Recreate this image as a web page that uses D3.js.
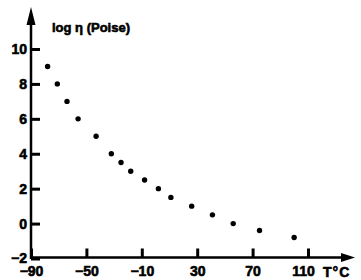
<!DOCTYPE html>
<html>
<head>
<meta charset="utf-8">
<script src="https://cdn.jsdelivr.net/npm/d3@7"></script>
<style>
  body { margin: 0; background: #fff; }
  svg { display: block; }
  .tick text, .label { font-family: "Liberation Sans", Arial, sans-serif; font-weight: bold; font-size: 14px; fill: #000; stroke: #000; stroke-width: 0.6px; }
</style>
</head>
<body>
<svg width="361" height="280"></svg>
<script>
// temperature (°C) and log viscosity
const temps = [-78, -71, -64, -56, -43, -32, -25, -18, -8, 2, 11, 26, 41, 56, 75, 100];
const logEta = [9, 8, 7, 6, 5, 4, 3.5, 3, 2.5, 2, 1.5, 1, 0.5, 0, -0.4, -0.8];
const xTicks = [-90, -50, -10, 30, 70, 110];
const yTicks = [-2, 0, 2, 4, 6, 8, 10];

const svg = d3.select('svg');
const data = temps.map((t, i) => ({ t, v: logEta[i] }));

const axisX = 31;
const axisY = 257.5;

const xScale = d3.scaleLinear().domain([-90, 110]).range([axisX, 308]);
const yScale = d3.scaleLinear().domain([-2, 10]).range([258.5, 49]);

// axes: ticks point inward, domain path drawn separately with arrows
const xAxis = d3.axisBottom(xScale)
  .tickValues(xTicks)
  .tickSizeInner(-9)
  .tickSizeOuter(0)
  .tickPadding(9);

const yAxis = d3.axisLeft(yScale)
  .tickValues(yTicks)
  .tickSizeInner(-9)
  .tickSizeOuter(0)
  .tickPadding(4);

const xAxisG = svg.append('g')
  .attr('transform', `translate(0,${axisY})`)
  .call(xAxis);
xAxisG.select('.domain').remove();
xAxisG.selectAll('.tick line').style('stroke', '#000').style('stroke-width', '3px');
xAxisG.selectAll('.tick text').filter(d => d === 110).attr('dx', -5);

const yAxisG = svg.append('g')
  .attr('transform', `translate(${axisX},0)`)
  .call(yAxis);
yAxisG.select('.domain').remove();
yAxisG.selectAll('.tick line').style('stroke', '#000').style('stroke-width', '3px');

// axis lines with arrow heads
svg.append('path')
  .attr('d', `M${axisX},${axisY + 1.5}V14M${axisX},${axisY}H346`)
  .style('stroke', '#000')
  .style('stroke-width', '2.5px')
  .style('fill', 'none');
svg.append('path')
  .attr('d', `M${axisX},7L${axisX - 4.5},25L${axisX + 4.5},25Z`)
  .style('fill', '#000');
svg.append('path')
  .attr('d', `M355,${axisY}L341,${axisY - 4.5}L341,${axisY + 4.5}Z`)
  .style('fill', '#000');

// points
svg.append('g')
  .selectAll('circle')
  .data(data)
  .join('circle')
    .attr('cx', d => xScale(d.t))
    .attr('cy', d => yScale(d.v))
    .attr('r', 2.7)
    .style('fill', '#000');

svg.append('text')
  .attr('class', 'label')
  .attr('x', 52)
  .attr('y', 32)
  .style('font-size', '13px')
  .text('log η (Poise)');

svg.append('text')
  .attr('class', 'label')
  .attr('x', 323)
  .attr('y', 277)
  .attr('letter-spacing', 1)
  .text('T°C');
</script>
</body>
</html>
